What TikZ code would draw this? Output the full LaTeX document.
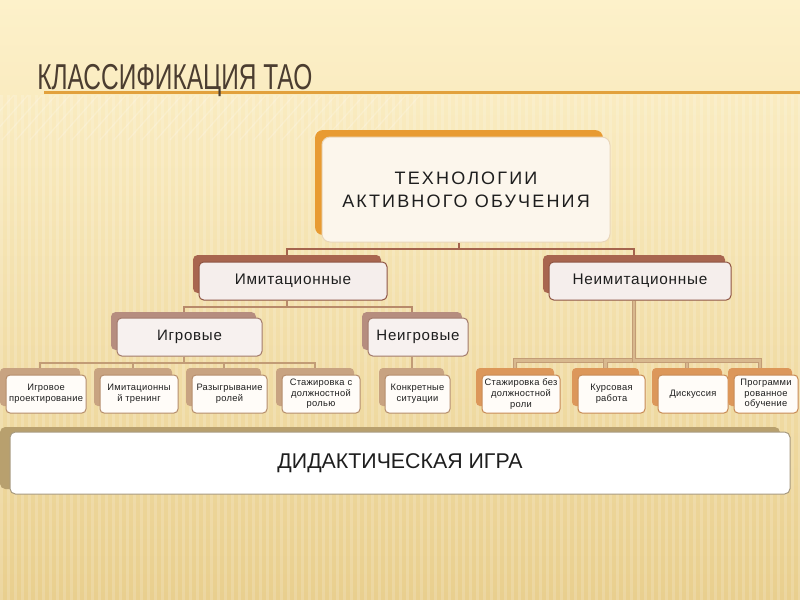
\documentclass[tikz,border=0pt]{standalone}
\usepackage{fontspec}
\setmainfont{Liberation Sans}
\newfontfamily\titlefont[FakeStretch=0.68]{Liberation Sans}
\newfontfamily\widefont[LetterSpace=12]{Liberation Sans}
\newfontfamily\midfont[LetterSpace=5]{Liberation Sans}
\newfontfamily\leaffont[LetterSpace=3]{Liberation Sans}
\pgfdeclarelayer{bg}
\pgfdeclarelayer{lines}
\pgfsetlayers{bg,lines,main}
\definecolor{bgtop}{HTML}{FDF1CA}
\definecolor{bgmid}{HTML}{F6E2AA}
\definecolor{bgbot}{HTML}{E9CF8E}
\definecolor{titletxt}{HTML}{4B3D30}
\definecolor{titleline}{HTML}{E2A13C}
\definecolor{txt}{HTML}{1E1E1E}
\definecolor{topback}{HTML}{E89B32}
\definecolor{topfront}{HTML}{FCF6EC}
\definecolor{topedge}{HTML}{EAD7BA}
\definecolor{twoback}{HTML}{A8654F}
\definecolor{twofront}{HTML}{F5EEEC}
\definecolor{twoedge}{HTML}{8E5443}
\definecolor{threeback}{HTML}{B68D7F}
\definecolor{threefront}{HTML}{F7F1EF}
\definecolor{threeedge}{HTML}{A27A6C}
\definecolor{leafback}{HTML}{C8A381}
\definecolor{leafedge}{HTML}{B58D6C}
\definecolor{rleafback}{HTML}{DC975A}
\definecolor{rleafedge}{HTML}{C78A55}
\definecolor{leaffront}{HTML}{FFFCF8}
\definecolor{botback}{HTML}{B8A06E}
\definecolor{botedge}{HTML}{A89B80}
\definecolor{lineA}{HTML}{A5644E}
\definecolor{lineB}{HTML}{B88A6A}
\definecolor{lineC}{HTML}{C29C76}
\definecolor{lineD}{HTML}{D8B88E}
\tikzset{
  wh/.style 2 args={minimum width=#1*0.75pt, minimum height=#2*0.75pt},
  boxbase/.style={inner sep=0pt, align=center, text=txt, line width=0.75pt},
  lvlone/.style={boxbase, rounded corners=6pt, fill=topfront, draw=topedge,
    font=\widefont\fontsize{13.5}{17}\selectfont,
    preaction={fill=topback, draw=none, transform canvas={shift={(-5.25pt,5.25pt)}}}},
  lvltwo/.style={boxbase, rounded corners=3.5pt, fill=twofront, draw=twoedge,
    font=\midfont\fontsize{11.5}{14}\selectfont,
    preaction={fill=twoback, draw=none, transform canvas={shift={(-4.5pt,5.25pt)}}}},
  lvlthree/.style={boxbase, rounded corners=3.5pt, fill=threefront, draw=threeedge,
    font=\midfont\fontsize{11.3}{14}\selectfont,
    preaction={fill=threeback, draw=none, transform canvas={shift={(-4.5pt,4.5pt)}}}},
  leaf/.style={boxbase, rounded corners=3pt, fill=leaffront, draw=leafedge,
    font=\leaffont\fontsize{7}{8}\selectfont, wh={#1}{38},
    preaction={fill=leafback, draw=none, transform canvas={shift={(-4.5pt,5.25pt)}}}},
  rleaf/.style={boxbase, rounded corners=3pt, fill=leaffront, draw=rleafedge,
    font=\leaffont\fontsize{7}{8}\selectfont, wh={#1}{38},
    preaction={fill=rleafback, draw=none, transform canvas={shift={(-4.5pt,5.25pt)}}}},
  bottombox/.style={boxbase, rounded corners=4pt, fill=white, draw=botedge,
    font=\fontsize{16}{19}\selectfont,
    preaction={fill=botback, draw=none, transform canvas={shift={(-7.5pt,3.75pt)}}}},
  conA/.style={draw=lineA, line width=1.5pt},
  conB/.style={draw=lineB, line width=1.5pt},
  conC/.style={draw=lineC, line width=1.5pt},
  conD/.style={draw=lineC, double=lineD, double distance=2pt, line width=0.8pt},
}
\begin{document}
\begin{tikzpicture}[x=0.75pt,y=-0.75pt]
\useasboundingbox (0,0) rectangle (800,600);
\begin{pgfonlayer}{bg}
  \shade[top color=bgtop, middle color=bgmid, bottom color=bgbot] (0,0) rectangle (800,600);
  \foreach \x in {0,7,...,800} {
    \fill[white, opacity=0.16] (\x,95) rectangle ++(2.5,505);
  }
  \foreach \x in {0,14,...,420} {
    \draw[white, opacity=0.2, line width=1pt] (\x,95) -- ++(-40,45);
  }
\end{pgfonlayer}

% title
\draw[titleline, line width=1.6pt] (44,92.5) -- (800,92.5);
\node[anchor=base west, inner sep=0pt, text=titletxt, font=\titlefont\fontsize{27}{30}\selectfont] (title) at (37,89) {КЛАССИФИКАЦИЯ ТАО};

% nodes
\node[lvlone, wh={288}{105}] (tao) at (466,189.5) {ТЕХНОЛОГИИ\\АКТИВНОГО ОБУЧЕНИЯ};
\node[lvltwo, wh={188}{38}] (imit) at (293,281) {Имитационные};
\node[lvltwo, wh={182}{38}] (neimit) at (640,281) {Неимитационные};
\node[lvlthree, wh={145}{38}] (igr) at (189.5,337) {Игровые};
\node[lvlthree, wh={100}{38}] (neigr) at (418,337) {Неигровые};

\node[leaf=80] (l1) at (46,394) {Игровое\\проектирование};
\node[leaf=78] (l2) at (139,394) {Имитационны\\й тренинг};
\node[leaf=75] (l3) at (229.5,394) {Разыгрывание\\ролей};
\node[leaf=78] (l4) at (321,394) {Стажировка с\\должностной\\ролью};
\node[leaf=65] (l5) at (417.5,394) {Конкретные\\ситуации};

\node[rleaf=78] (r1) at (521,394) {Стажировка без\\должностной\\роли};
\node[rleaf=67] (r2) at (611.5,394) {Курсовая\\работа};
\node[rleaf=70] (r3) at (693,394) {Дискуссия};
\node[rleaf=64] (r4) at (766,394) {Программи\\рованное\\обучение};

\node[bottombox, wh={780}{62}] (game) at (400,463) {ДИДАКТИЧЕСКАЯ ИГРА};

% connectors
\begin{pgfonlayer}{lines}
  \draw[conA] ([xshift=-5.25pt]tao.south) -- ++(0,6) -| ([xshift=-4.5pt]imit.north);
  \draw[conA] ([xshift=-5.25pt]tao.south) -- ++(0,6) -| ([xshift=-4.5pt]neimit.north);
  \draw[conB] ([xshift=-4.5pt]imit.south) -- ++(0,6) -| ([xshift=-4.5pt]igr.north);
  \draw[conB] ([xshift=-4.5pt]imit.south) -- ++(0,6) -| ([xshift=-4.5pt]neigr.north);
  \foreach \n in {l1,l2,l3,l4} {
    \draw[conC] ([xshift=-4.5pt]igr.south) -- ++(0,6) -| ([xshift=-4.5pt]\n.north);
  }
  \draw[conC] ([xshift=-4.5pt]neigr.south) -- ([xshift=-4.5pt]neigr.south |- l5.north);
  \foreach \n in {r1,r2,r3,r4} {
    \draw[conD] ([xshift=-4.5pt]neimit.south) -- ++(0,60) -| ([xshift=-4.5pt]\n.north);
  }
\end{pgfonlayer}
\end{tikzpicture}
\end{document}
